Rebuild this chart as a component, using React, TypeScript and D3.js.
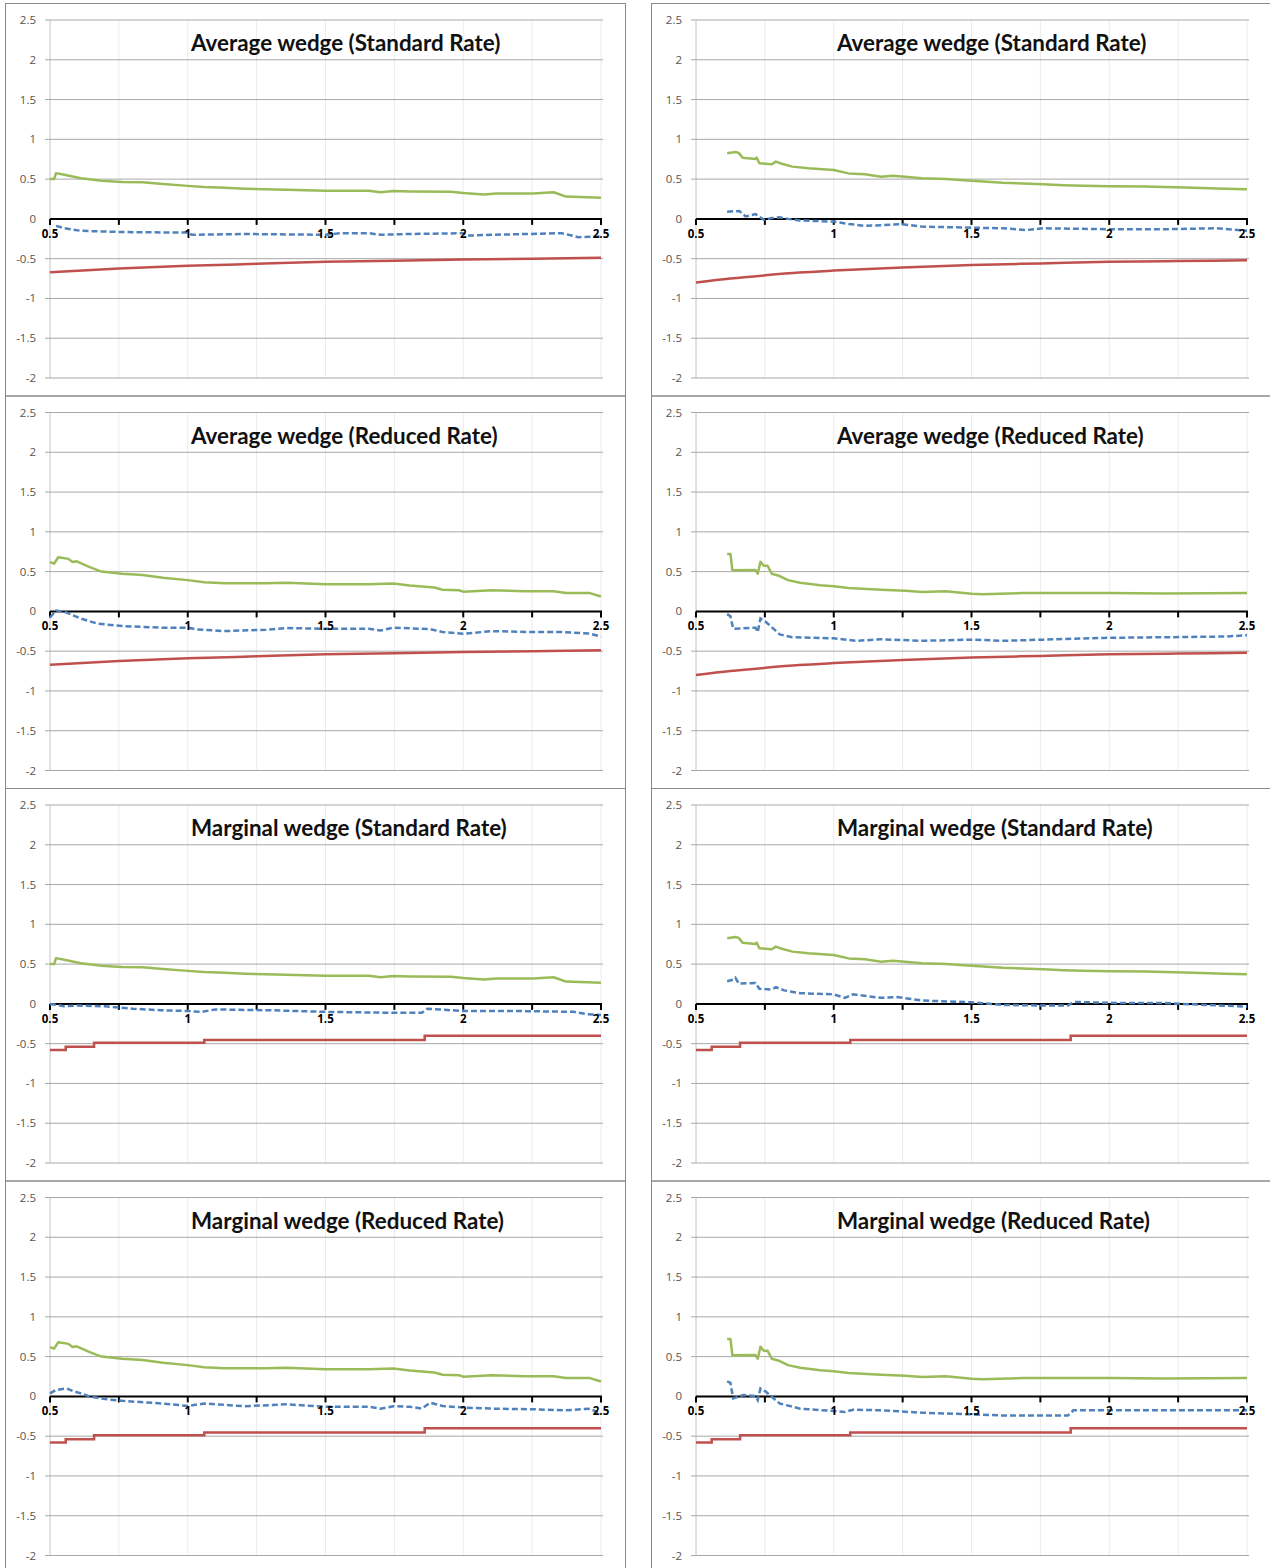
import React, { useEffect, useRef } from "react";
import * as d3 from "d3";

type Pt = [number, number];

// chart titles, one per row
const titles = [
  "Average wedge (Standard Rate)",
  "Average wedge (Reduced Rate)",
  "Marginal wedge (Standard Rate)",
  "Marginal wedge (Reduced Rate)",
];

const yTicks = [2.5, 2, 1.5, 1, 0.5, 0, -0.5, -1, -1.5, -2];
const xMinorTicks = [0.5, 0.75, 1, 1.25, 1.5, 1.75, 2, 2.25, 2.5];
const xLabels = [0.5, 1, 1.5, 2, 2.5];

// green series (shared by average and marginal panels)
const greenStdLeft: Pt[] = [[0.5, 0.5], [0.515, 0.5], [0.522, 0.575], [0.552, 0.555], [0.612, 0.51], [0.687, 0.48], [0.761, 0.465], [0.836, 0.46], [0.91, 0.44], [1.0, 0.415], [1.06, 0.4], [1.134, 0.39], [1.209, 0.38], [1.358, 0.365], [1.5, 0.355], [1.657, 0.353], [1.7, 0.335], [1.746, 0.35], [1.806, 0.345], [1.955, 0.34], [2.0, 0.325], [2.075, 0.307], [2.12, 0.32], [2.254, 0.32], [2.328, 0.335], [2.373, 0.28], [2.5, 0.265]];
const greenStdRight: Pt[] = [[0.613, 0.826], [0.643, 0.84], [0.655, 0.83], [0.669, 0.77], [0.716, 0.754], [0.72, 0.77], [0.73, 0.7], [0.775, 0.686], [0.79, 0.72], [0.805, 0.7], [0.85, 0.657], [0.907, 0.636], [1.0, 0.614], [1.054, 0.572], [1.113, 0.56], [1.172, 0.53], [1.215, 0.542], [1.29, 0.52], [1.32, 0.51], [1.407, 0.5], [1.5, 0.48], [1.613, 0.453], [1.76, 0.436], [1.834, 0.424], [1.907, 0.415], [2.0, 0.41], [2.13, 0.407], [2.275, 0.394], [2.42, 0.38], [2.5, 0.373]];
const greenRedLeft: Pt[] = [[0.5, 0.62], [0.515, 0.6], [0.53, 0.68], [0.567, 0.66], [0.582, 0.62], [0.597, 0.63], [0.642, 0.56], [0.687, 0.5], [0.761, 0.474], [0.836, 0.457], [0.91, 0.423], [1.0, 0.393], [1.06, 0.367], [1.134, 0.355], [1.284, 0.355], [1.358, 0.36], [1.5, 0.342], [1.657, 0.342], [1.746, 0.35], [1.806, 0.325], [1.895, 0.3], [1.925, 0.273], [1.985, 0.265], [2.0, 0.248], [2.104, 0.265], [2.224, 0.252], [2.328, 0.252], [2.373, 0.23], [2.46, 0.23], [2.5, 0.188]];
const greenRedRight: Pt[] = [[0.613, 0.722], [0.625, 0.722], [0.632, 0.517], [0.716, 0.52], [0.724, 0.474], [0.734, 0.624], [0.746, 0.573], [0.76, 0.573], [0.775, 0.474], [0.804, 0.444], [0.834, 0.393], [0.878, 0.359], [0.951, 0.329], [1.0, 0.316], [1.054, 0.295], [1.172, 0.273], [1.26, 0.26], [1.32, 0.244], [1.407, 0.252], [1.5, 0.222], [1.54, 0.214], [1.687, 0.23], [2.0, 0.23], [2.2, 0.225], [2.5, 0.23]];

// blue dashed series
const blueAvgStdLeft: Pt[] = [[0.522, -0.088], [0.552, -0.118], [0.612, -0.15], [0.761, -0.165], [0.91, -0.17], [1.0, -0.17], [1.015, -0.2], [1.209, -0.19], [1.5, -0.2], [1.552, -0.18], [1.657, -0.18], [1.7, -0.2], [1.806, -0.19], [2.0, -0.18], [2.015, -0.21], [2.104, -0.2], [2.358, -0.18], [2.418, -0.23], [2.5, -0.22]];
const blueAvgStdRight: Pt[] = [[0.613, 0.09], [0.657, 0.1], [0.68, 0.03], [0.716, 0.06], [0.746, -0.01], [0.775, 0.01], [0.804, 0.02], [0.834, 0.0], [0.878, -0.02], [1.0, -0.034], [1.054, -0.063], [1.113, -0.088], [1.245, -0.067], [1.32, -0.097], [1.5, -0.11], [1.613, -0.118], [1.7, -0.14], [1.76, -0.118], [2.0, -0.13], [2.2, -0.13], [2.39, -0.118], [2.5, -0.15]];
const blueAvgRedLeft: Pt[] = [[0.5, -0.077], [0.522, 0.01], [0.552, -0.004], [0.612, -0.09], [0.672, -0.154], [0.761, -0.184], [0.91, -0.205], [1.0, -0.205], [1.03, -0.226], [1.134, -0.248], [1.284, -0.23], [1.358, -0.21], [1.5, -0.218], [1.657, -0.218], [1.7, -0.24], [1.746, -0.205], [1.88, -0.222], [1.925, -0.26], [2.0, -0.282], [2.104, -0.248], [2.254, -0.26], [2.358, -0.26], [2.46, -0.28], [2.5, -0.316]];
const blueAvgRedRight: Pt[] = [[0.613, -0.034], [0.625, -0.06], [0.635, -0.218], [0.716, -0.205], [0.724, -0.26], [0.734, -0.09], [0.753, -0.13], [0.804, -0.29], [0.849, -0.325], [1.0, -0.338], [1.084, -0.37], [1.172, -0.35], [1.32, -0.37], [1.5, -0.355], [1.613, -0.37], [1.76, -0.355], [1.98, -0.333], [2.2, -0.325], [2.42, -0.316], [2.5, -0.3]];
const blueMargStdLeft: Pt[] = [[0.5, 0.0], [0.52, -0.01], [0.55, -0.03], [0.6, -0.02], [0.7, -0.03], [0.8, -0.06], [0.9, -0.08], [1.0, -0.09], [1.05, -0.1], [1.1, -0.07], [1.3, -0.08], [1.5, -0.1], [1.7, -0.11], [1.85, -0.11], [1.87, -0.06], [2.0, -0.09], [2.2, -0.09], [2.4, -0.1], [2.45, -0.13], [2.5, -0.14]];
const blueMargStdRight: Pt[] = [[0.613, 0.284], [0.635, 0.305], [0.643, 0.33], [0.655, 0.254], [0.716, 0.263], [0.73, 0.19], [0.775, 0.18], [0.79, 0.21], [0.82, 0.17], [0.878, 0.135], [1.0, 0.12], [1.04, 0.076], [1.07, 0.12], [1.172, 0.076], [1.23, 0.085], [1.32, 0.042], [1.5, 0.02], [1.613, -0.013], [1.76, -0.02], [1.85, -0.02], [1.87, 0.025], [2.0, 0.013], [2.2, 0.01], [2.5, -0.034]];
const blueMargRedLeft: Pt[] = [[0.5, 0.038], [0.522, 0.08], [0.56, 0.1], [0.582, 0.068], [0.612, 0.038], [0.642, 0.0], [0.7, -0.034], [0.761, -0.056], [0.91, -0.09], [1.0, -0.12], [1.06, -0.09], [1.209, -0.124], [1.358, -0.1], [1.5, -0.13], [1.657, -0.13], [1.7, -0.154], [1.746, -0.124], [1.806, -0.13], [1.85, -0.154], [1.88, -0.08], [1.925, -0.12], [2.0, -0.14], [2.104, -0.154], [2.254, -0.162], [2.373, -0.175], [2.46, -0.154], [2.5, -0.218]];
const blueMargRedRight: Pt[] = [[0.613, 0.188], [0.625, 0.17], [0.635, -0.026], [0.672, 0.017], [0.716, 0.004], [0.724, -0.047], [0.734, 0.1], [0.753, 0.06], [0.804, -0.09], [0.878, -0.154], [1.0, -0.184], [1.04, -0.197], [1.07, -0.167], [1.172, -0.175], [1.32, -0.205], [1.5, -0.226], [1.613, -0.24], [1.85, -0.24], [1.87, -0.175], [2.0, -0.175], [2.5, -0.175]];

// red series
const redAvgLeft: Pt[] = [[0.5, -0.67], [0.75, -0.625], [1, -0.59], [1.25, -0.565], [1.5, -0.54], [1.75, -0.525], [2, -0.51], [2.25, -0.5], [2.5, -0.49]];
const redAvgRight: Pt[] = [[0.5, -0.8], [0.625, -0.75], [0.75, -0.71], [0.875, -0.675], [1.0, -0.65], [1.25, -0.61], [1.5, -0.58], [1.75, -0.56], [2.0, -0.54], [2.25, -0.53], [2.5, -0.52]];
const redMarginal: Pt[] = [[0.5, -0.58], [0.557, -0.54], [0.66, -0.49], [1.06, -0.455], [1.86, -0.4], [2.5, -0.4]];

const panels = [
  { row: 0, col: 0, green: greenStdLeft, blue: blueAvgStdLeft, red: redAvgLeft, step: false },
  { row: 0, col: 1, green: greenStdRight, blue: blueAvgStdRight, red: redAvgRight, step: false },
  { row: 1, col: 0, green: greenRedLeft, blue: blueAvgRedLeft, red: redAvgLeft, step: false },
  { row: 1, col: 1, green: greenRedRight, blue: blueAvgRedRight, red: redAvgRight, step: false },
  { row: 2, col: 0, green: greenStdLeft, blue: blueMargStdLeft, red: redMarginal, step: true },
  { row: 2, col: 1, green: greenStdRight, blue: blueMargStdRight, red: redMarginal, step: true },
  { row: 3, col: 0, green: greenRedLeft, blue: blueMargRedLeft, red: redMarginal, step: true },
  { row: 3, col: 1, green: greenRedRight, blue: blueMargRedRight, red: redMarginal, step: true },
];

const W = 1270;
const H = 1568;
const rowH = 392.5;

export default function App() {
  const ref = useRef<SVGSVGElement>(null);

  useEffect(() => {
    const svg = d3.select(ref.current);
    svg.selectAll("*").remove();
    svg.append("rect").attr("width", W).attr("height", H).attr("fill", "#fff");

    panels.forEach((p) => {
      const px = p.col === 0 ? 5 : 651;
      const py = 3 + p.row * rowH;
      const g = svg.append("g").attr("transform", `translate(${px},${py})`);

      // panel frame
      g.append("rect")
        .attr("x", 0.5).attr("y", 0.5)
        .attr("width", 620).attr("height", rowH)
        .attr("fill", "none").attr("stroke", "#8a8a8a").attr("stroke-width", 1);

      const x = d3.scaleLinear().domain([0.5, 2.5]).range([45, 596]);
      const y = d3.scaleLinear().domain([-2, 2.5]).range([375, 17]);

      // light vertical gridlines
      g.selectAll(".vg").data(xMinorTicks).enter().append("line")
        .attr("x1", (d) => x(d)).attr("x2", (d) => x(d))
        .attr("y1", y(2.5)).attr("y2", y(-2))
        .attr("stroke", (d) => (d === 0.5 ? "#c4c4c4" : "#ebebeb"))
        .attr("stroke-width", 1);

      // horizontal gridlines
      g.selectAll(".hg").data(yTicks.filter((d) => d !== 0)).enter().append("line")
        .attr("x1", x(0.5) - 5).attr("x2", x(2.5) + 2)
        .attr("y1", (d) => y(d)).attr("y2", (d) => y(d))
        .attr("stroke", "#a8a8a8").attr("stroke-width", 1);

      // y labels
      g.selectAll(".yl").data(yTicks).enter().append("text")
        .attr("x", x(0.5) - 14).attr("y", (d) => y(d) + 4)
        .attr("text-anchor", "end")
        .attr("font-family", "'Open Sans', sans-serif").attr("font-size", 11.5)
        .attr("fill", "#555")
        .text((d) => String(d));

      // title
      g.append("text")
        .attr("x", x(0.5) + 141).attr("y", 48)
        .attr("font-family", "Lato, sans-serif").attr("font-weight", "bold")
        .attr("font-size", 22.4).attr("fill", "#111")
        .text(titles[p.row]);

      // zero axis
      g.append("line")
        .attr("x1", x(0.5)).attr("x2", x(2.5) + 1)
        .attr("y1", y(0)).attr("y2", y(0))
        .attr("stroke", "#000").attr("stroke-width", 2);
      g.selectAll(".xt").data(xMinorTicks).enter().append("line")
        .attr("x1", (d) => x(d)).attr("x2", (d) => x(d))
        .attr("y1", y(0)).attr("y2", y(0) + 6)
        .attr("stroke", "#000").attr("stroke-width", 2);

      const line = d3.line<Pt>().x((d) => x(d[0])).y((d) => y(d[1]));

      g.append("path").attr("d", line(p.green))
        .attr("fill", "none").attr("stroke", "#9bbb59").attr("stroke-width", 2.5)
        .attr("stroke-linejoin", "round");

      g.append("path").attr("d", line(p.blue))
        .attr("fill", "none").attr("stroke", "#4f81bd").attr("stroke-width", 2.5)
        .attr("stroke-dasharray", "6,3");

      const redLine = d3.line<Pt>()
        .x((d) => x(d[0])).y((d) => y(d[1]))
        .curve(p.step ? d3.curveStepAfter : d3.curveMonotoneX);
      g.append("path").attr("d", redLine(p.red))
        .attr("fill", "none").attr("stroke", "#c0504d").attr("stroke-width", 2.5);

      // x labels sit on top of the lines
      g.selectAll(".xl").data(xLabels).enter().append("text")
        .attr("x", (d) => x(d)).attr("y", y(0) + 19)
        .attr("text-anchor", "middle")
        .attr("font-family", "'Open Sans', sans-serif").attr("font-weight", "bold")
        .attr("font-size", 11.5).attr("fill", "#000")
        .text((d) => String(d));
    });
  }, []);

  return (
    <svg ref={ref} width={W} height={H}
      style={{ position: "absolute", left: 0, top: 0, display: "block" }} />
  );
}
